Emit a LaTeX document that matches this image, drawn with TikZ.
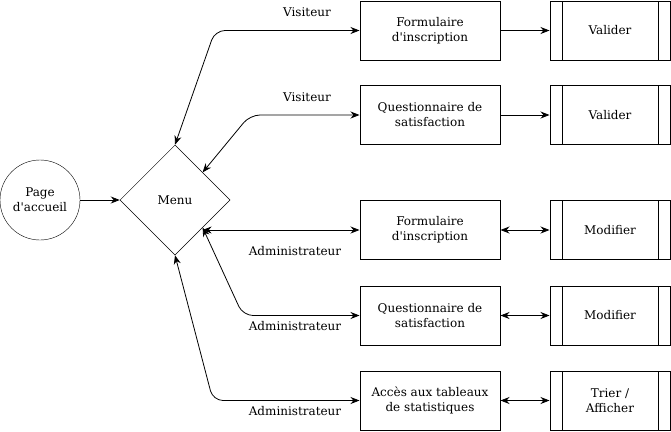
\documentclass[tikz,border=0pt]{standalone}
\usepackage{fontspec}
\setmainfont{DejaVu Serif}
\usetikzlibrary{shapes.geometric,arrows.meta}

\begin{document}
\begin{tikzpicture}[x=1pt,y=-1pt,
	font=\fontsize{12}{15}\selectfont,
	box/.style={draw,line width=1pt,minimum width=140pt,minimum height=59pt,align=center,inner sep=0pt},
	action/.style={draw,line width=1pt,minimum width=120pt,minimum height=59pt,align=center,inner sep=0pt,
		path picture={
		\draw[line width=1pt] ([xshift=12pt]path picture bounding box.north west) -- ([xshift=12pt]path picture bounding box.south west);
		\draw[line width=1pt] ([xshift=-12pt]path picture bounding box.north east) -- ([xshift=-12pt]path picture bounding box.south east);}},
	link/.style={line width=0.8pt,rounded corners=10pt,{Stealth[length=9pt,width=7pt]}-{Stealth[length=9pt,width=7pt]}},
	tolink/.style={line width=0.8pt,-{Stealth[length=9pt,width=7pt]}}]
\useasboundingbox (0,0) rectangle (671,431);

\node (accueil) [draw,circle,minimum size=80pt,inner sep=0pt,align=center] at (40,200)
	{Page\\d\textquotesingle accueil};
\node (menu) [draw,diamond,aspect=1,minimum width=110pt,minimum height=110pt,inner sep=0pt,line width=0.5pt] at (175,200)
	{Menu};

% premiere colonne
\node (forminsc) [box] at (430,30.5) {Formulaire\\d\textquotesingle inscription};
\node (questsat) [box] at (430,115) {Questionnaire de\\satisfaction};
\node (forminscadm) [box] at (430,230) {Formulaire\\d\textquotesingle inscription};
\node (questsatadm) [box] at (430,315.5) {Questionnaire de\\satisfaction};
\node (tableaux) [box] at (430,400.5) {Accès aux tableaux\\de statistiques};

% deuxieme colonne
\node (valider1) [action] at (610,30.5) {Valider};
\node (valider2) [action] at (610,115) {Valider};
\node (modifier1) [action] at (610,230) {Modifier};
\node (modifier2) [action] at (610,315.5) {Modifier};
\node (trier) [action] at (610,400.5) {Trier /\\Afficher};

% etiquettes
\node (visit1) at (307,12) {Visiteur};
\node (visit2) at (307,97) {Visiteur};
\node (admin1) at (295,251) {Administrateur};
\node (admin2) at (295,326) {Administrateur};
\node (admin3) at (295,411) {Administrateur};

\coordinate (coude1) at (215,30.5);
\coordinate (coude2) at (250,115);
\coordinate (coude4) at (243,315.5);
\coordinate (coude5) at (213,400.5);

\draw[tolink] (accueil) -- (menu.west);

\draw[link] (menu.north) -- (coude1) -- (forminsc.west);
\draw[link] (menu.north east) -- (coude2) -- (questsat.west);
\draw[link] (forminscadm.west -| menu.south east) -- (forminscadm.west);
\draw[link] (menu.south east) -- (coude4) -- (questsatadm.west);
\draw[link] (menu.south) -- (coude5) -- (tableaux.west);

\path[tolink]
(forminsc) edge (valider1)
(questsat) edge (valider2);
\path[link]
(forminscadm) edge (modifier1)
(questsatadm) edge (modifier2)
(tableaux) edge (trier);
\end{tikzpicture}
\end{document}
